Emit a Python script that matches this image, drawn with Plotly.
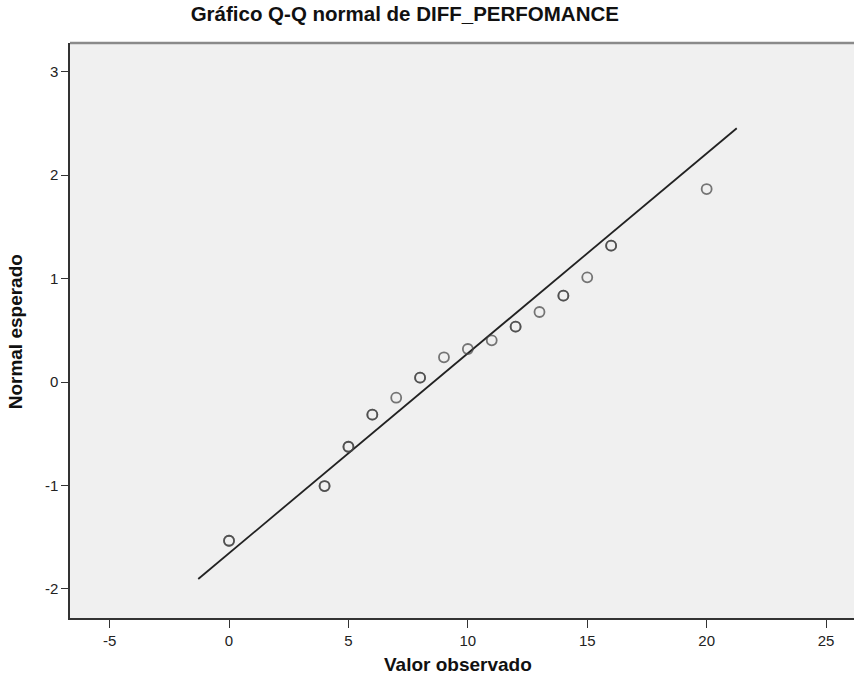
import numpy as np
import plotly.graph_objects as go

# Observed values, expected normal scores and how many cases share each value
observed = [0, 4, 5, 6, 7, 8, 9, 10, 11, 12, 13, 14, 15, 16, 20]
expected = [-1.535, -1.006, -0.626, -0.316, -0.152, 0.042, 0.239, 0.319,
            0.403, 0.535, 0.677, 0.835, 1.012, 1.318, 1.866]
cases = [2, 2, 2, 2, 1, 2, 1, 1, 1, 2, 1, 2, 1, 2, 1]

# Reference line: normal with the sample mean and standard deviation
line_mean = 8.565
line_sd = 5.174
line_x = [-1.29, 21.26]

x_ticks = [-5, 0, 5, 10, 15, 20, 25]
x_tick_text = ["-5", "0", "5", "10", "15", "20", "25"]
y_ticks = [-2, -1, 0, 1, 2, 3]
y_tick_text = ["-2", "-1", "0", "1", "2", "3"]

# One marker per case, so tied values overlap and print darker
px = np.repeat(observed, cases)
py = np.repeat(expected, cases)

lx = np.array(line_x, dtype=float)
ly = (lx - line_mean) / line_sd

fig = go.Figure()
fig.add_trace(go.Scatter(
    x=lx, y=ly, mode="lines",
    line=dict(color="#222222", width=1.8),
    hoverinfo="skip", showlegend=False,
))
fig.add_trace(go.Scatter(
    x=px, y=py, mode="markers",
    marker=dict(symbol="circle-open", size=10, color="#444444",
                opacity=0.72, line=dict(width=1.8)),
    showlegend=False,
))

font_family = "Liberation Sans, Arial, sans-serif"

fig.update_layout(
    width=854, height=680,
    margin=dict(l=70, r=0, t=43, b=62),
    paper_bgcolor="white",
    plot_bgcolor="#f0f0f0",
    title=dict(text="<b>Gráfico Q-Q normal de DIFF_PERFOMANCE</b>",
               x=0.474, xanchor="center", y=0.979, yanchor="middle",
               font=dict(family=font_family, size=20.5, color="#111111")),
    font=dict(family=font_family, color="#222222"),
    xaxis=dict(
        range=[-6.66, 26.17],
        tickvals=x_ticks, ticktext=x_tick_text,
        ticks="outside", ticklen=8, tickwidth=1, tickcolor="#333333",
        tickfont=dict(size=15, color="#222222"),
        showgrid=False, zeroline=False,
        showline=True, linecolor="#333333", linewidth=1.5,
    ),
    yaxis=dict(
        range=[-2.282, 3.278],
        tickvals=y_ticks, ticktext=y_tick_text,
        ticks="outside", ticklen=7, tickwidth=1, tickcolor="#333333",
        tickfont=dict(size=15, color="#222222"),
        showgrid=False, zeroline=False,
        showline=True, linecolor="#333333", linewidth=1.5,
    ),
)

# Axis titles
fig.add_annotation(text="<b>Valor observado</b>", xref="paper", yref="paper",
                   x=0.495, y=-0.08, xanchor="center", yanchor="middle",
                   showarrow=False,
                   font=dict(family=font_family, size=19, color="#111111"))
fig.add_annotation(text="<b>Normal esperado</b>", xref="paper", yref="paper",
                   x=-0.07, y=0.497, xanchor="center", yanchor="middle",
                   textangle=-90, showarrow=False,
                   font=dict(family=font_family, size=19, color="#111111"))

# Grey upper border of the plotting frame
fig.add_shape(type="line", xref="paper", yref="paper",
              x0=0, x1=1, y0=1, y1=1,
              line=dict(color="#8a8a8a", width=2.5))

fig.write_html("out.html")
